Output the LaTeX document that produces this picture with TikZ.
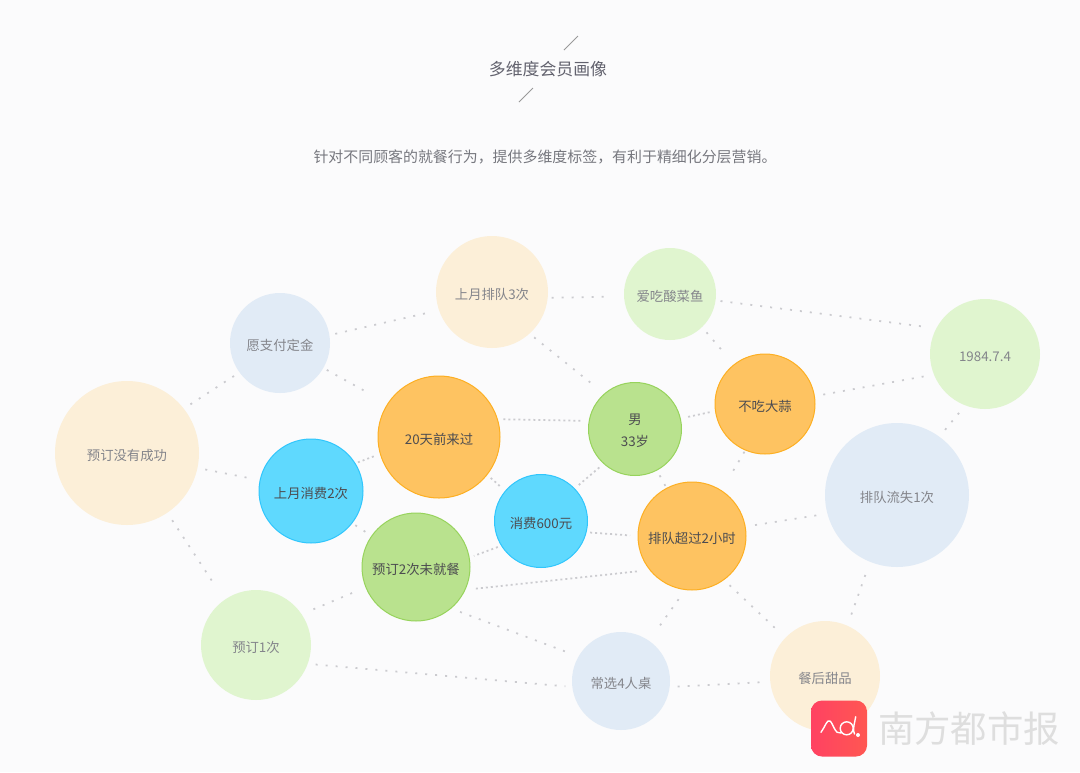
\documentclass[tikz,border=0pt]{standalone}
\usepackage{fontspec}
\usepackage{xcolor}
\setmainfont{Noto Sans CJK SC}
\definecolor{paper}{HTML}{FBFBFC}
\definecolor{cream}{HTML}{FCEFD8}
\definecolor{leaf}{HTML}{E0F5CF}
\definecolor{mist}{HTML}{E1EBF6}
\definecolor{amber}{HTML}{FEC361}
\definecolor{amberline}{HTML}{FDAF22}
\definecolor{lime}{HTML}{B9E28E}
\definecolor{limeline}{HTML}{97D35C}
\definecolor{sky}{HTML}{5FD9FE}
\definecolor{skyline}{HTML}{30C6FC}
\definecolor{palegrey}{HTML}{84858B}
\definecolor{darkgrey}{HTML}{4C4C50}
\definecolor{headgrey}{HTML}{62626E}
\definecolor{subgrey}{HTML}{77787F}
\definecolor{dotgrey}{HTML}{CBCBCF}
\definecolor{logoleft}{HTML}{FF4262}
\definecolor{logoright}{HTML}{FF5752}
\tikzset{%
	bubble/.style   = {circle, inner sep=0pt, outer sep=0pt, minimum size=#1*0.02cm, align=center, text height=9pt, text depth=0pt, font=\fontsize{7.6}{12.5}\selectfont},
	pale/.style     = {bubble=#1, text=palegrey},
	strong/.style   = {bubble=#1, text=darkgrey, line width=0.02cm},
	creambub/.style = {pale=#1, fill=cream}, % Pale tags
	leafbub/.style  = {pale=#1, fill=leaf},
	mistbub/.style  = {pale=#1, fill=mist},
	amberbub/.style = {strong=#1, fill=amber, draw=amberline}, % Strong tags
	limebub/.style  = {strong=#1, fill=lime, draw=limeline},
	skybub/.style   = {strong=#1, fill=sky, draw=skyline},
	link/.style     = {dotgrey, line width=0.035cm, dash pattern=on 0.04cm off 0.16cm},
	dense/.style    = {dotgrey, line width=0.035cm, dash pattern=on 0.04cm off 0.06cm},
	gap/.style 2 args = {shorten <=#1*0.02cm, shorten >=#2*0.02cm},
	tick/.style     = {black!40, line width=0.02cm},
}
\begin{document}
\begin{tikzpicture}[x=0.02cm,y=-0.02cm]
	\fill[paper] (0,0) rectangle (1080,772);
	\useasboundingbox (0,0) rectangle (1080,772);
	% heading
	\node[text=headgrey,font=\fontsize{9.6}{12}\selectfont] (title) at (548,69.5) {多维度会员画像};
	\node[text=subgrey,font=\fontsize{8.5}{12}\selectfont] (sub) at (545,157) {针对不同顾客的就餐行为^^^^ff0c提供多维度标签^^^^ff0c有利于精细化分层营销。};
	\coordinate (tia) at (564,50);
	\coordinate (tib) at (578,36);
	\coordinate (tic) at (519,102);
	\coordinate (tid) at (533,88);
	\draw[tick] (tia) -- (tib);
	\draw[tick] (tic) -- (tid);
	% tags
	\node[creambub=112] (queue) at (492,292) {上月排队3次};
	\node[leafbub=92] (fish) at (670,294) {爱吃酸菜鱼};
	\node[leafbub=110] (birth) at (985,354) {1984.7.4};
	\node[mistbub=100] (deposit) at (280,343) {愿支付定金};
	\node[amberbub=100] (garlic) at (765,404) {不吃大蒜};
	\node[limebub=93,text height=,text depth=] (male) at (635,429) {\rule{0pt}{8pt}男\\33岁};
	\node[amberbub=122] (recent) at (439,437) {20天前来过};
	\node[creambub=144] (failed) at (127,453) {预订没有成功};
	\node[skybub=104] (visits) at (311,491) {上月消费2次};
	\node[mistbub=144] (lost) at (897,495) {排队流失1次};
	\node[skybub=93] (spend) at (541,521) {消费600元};
	\node[amberbub=108] (wait) at (692,536) {排队超过2小时};
	\node[limebub=108] (noshow) at (416,567) {预订2次未就餐};
	\node[leafbub=110] (once) at (256,645) {预订1次};
	\node[mistbub=98] (table) at (621,681) {常选4人桌};
	\node[creambub=110] (dessert) at (825,676) {餐后甜品};
	% dotted links
	\draw[link,gap={6}{10}] (deposit.9) -- (queue.199);
	\draw[link,gap={4}{14}] (queue.-6) -- (fish.183);
	\draw[link,gap={5}{10}] (fish.-8) -- (birth.152);
	\draw[link,gap={7}{20}] (fish.-46) -- (garlic.128);
	\draw[link,gap={6}{12}] (queue.-48) -- (male.131);
	\draw[link,gap={9}{4}] (garlic.9) -- (birth.202);
	\draw[link,gap={4}{24}] (deposit.-30) -- (recent.147);
	\draw[link,gap={8}{2}] (failed.38) -- (deposit.216);
	\draw[link,gap={8}{8}] (failed.-12) -- (visits.168);
	\draw[link,gap={9}{20}] (failed.-56) -- (once.125);
	\draw[dense,gap={3}{6}] (visits.32) -- (recent.196);
	\draw[link,gap={4}{6}] (visits.-38) -- (noshow.145);
	\draw[dense,gap={6}{7}] (recent.17) -- (male.170);
	\draw[dense,gap={5}{7}] (recent.-38) -- (spend.140);
	\draw[dense,gap={8}{6}] (male.13) -- (garlic.188);
	\draw[dense,gap={6}{5}] (male.228) -- (spend.44);
	\draw[link,gap={6}{2}] (male.-62) -- (wait.118);
	\draw[link,gap={2}{21}] (garlic.247) -- (wait.57);
	\draw[dense,gap={4}{5}] (spend.212) -- (noshow.10);
	\draw[dense,gap={4}{8}] (spend.-14) -- (wait.180);
	\draw[dense,gap={11}{13}] (noshow.-25) -- (wait.219);
	\draw[link,gap={15}{10}] (noshow.202) -- (once.34);
	\draw[link,gap={10}{13}] (noshow.-50) -- (table.150);
	\draw[link,gap={8}{7}] (once.-20) -- (table.187);
	\draw[link,gap={19}{9}] (table.55) -- (wait.263);
	\draw[link,gap={8}{5}] (table.-7) -- (dessert.186);
	\draw[link,gap={8}{11}] (wait.-54) -- (dessert.136);
	\draw[link,gap={10}{8}] (wait.10) -- (lost.195);
	\draw[link,gap={14}{9}] (lost.248) -- (dessert.66);
	\draw[link,gap={9}{8}] (lost.54) -- (birth.249);
	% watermark
	\node[rectangle, rounded corners=0.22cm, minimum size=56*0.02cm, inner sep=0pt, left color=logoleft, right color=logoright] (logo) at (839,728.5) {};
	\draw[white, line width=0.028cm, line cap=round, line join=round] (821,732.3) .. controls (825,727) and (827,719) .. (830,721) .. controls (833,723) and (835,735) .. (841,733);
	\draw[white, line width=0.028cm] (846.7,728.3) circle [radius=6.5];
	\draw[white, line width=0.028cm, line cap=round] (855.7,716.7) .. controls (855,722) and (852,730) .. (854.5,734);
	\fill[white] (858,735) circle [radius=2];
	\node[text=black!13,font=\fontsize{20.7}{24}\selectfont] (brand) at (969,729) {南方都市报};
\end{tikzpicture}
\end{document}
